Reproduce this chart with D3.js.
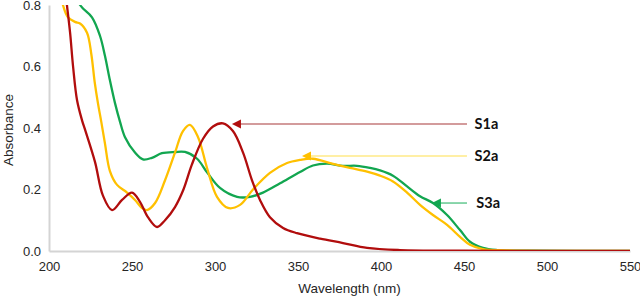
<!DOCTYPE html>
<html>
<head>
  <meta charset="utf-8">
  <title>Absorbance spectra</title>
  <style>
    body { margin: 0; background: #fff; }
    text { font-family: "Liberation Sans", Arial, sans-serif; }
  </style>
</head>
<body>
  <div id="viz"></div>
  <script src="https://d3js.org/d3.v7.min.js"></script>
  <script>
    // wavelength (nm) and absorbance
    const s1aWl  = [207, 210.8, 212.7, 214.5, 216.9, 219.9, 222, 227.7, 232.5, 238, 244, 250, 254.8, 259.6, 265.1, 269.9, 275.9, 281, 286, 292.8, 298.8, 304.8, 310.8, 316.9, 322.3, 327.1, 333.1, 341, 349.4, 363.3, 377.1, 391.6, 411.4, 450, 500, 550];
    const s1aAbs = [0.98, 0.8, 0.71, 0.6, 0.49, 0.425, 0.39, 0.29, 0.18, 0.133, 0.166, 0.19, 0.16, 0.11, 0.078, 0.1, 0.143, 0.2, 0.28, 0.365, 0.405, 0.415, 0.39, 0.32, 0.23, 0.166, 0.11, 0.075, 0.058, 0.04, 0.026, 0.01, 0.003, 0.001, 0, 0];

    const s2aWl  = [206, 208.4, 211.4, 215.7, 218.7, 222.9, 225.5, 227.5, 229.5, 231.5, 233.7, 236.7, 241, 247, 251.8, 256, 259, 263.9, 269.9, 275.9, 280.7, 284.9, 289.8, 295.2, 301.2, 307.8, 315.1, 322.9, 333.1, 343.4, 351.2, 359, 371.1, 381.3, 391.6, 399.4, 407.2, 415.7, 423.5, 431.3, 439.8, 447.6, 453.6, 461.4, 475, 550];
    const s2aAbs = [0.86, 0.8, 0.76, 0.745, 0.74, 0.71, 0.64, 0.55, 0.48, 0.42, 0.35, 0.26, 0.215, 0.19, 0.166, 0.14, 0.133, 0.156, 0.23, 0.32, 0.39, 0.41, 0.37, 0.27, 0.176, 0.14, 0.15, 0.2, 0.254, 0.286, 0.296, 0.3, 0.283, 0.27, 0.258, 0.245, 0.226, 0.19, 0.15, 0.117, 0.085, 0.046, 0.02, 0.006, 0.002, 0];

    const s3aWl  = [214, 218.7, 225.9, 230.7, 233.7, 236.7, 239.8, 242.8, 245.8, 251.8, 256.6, 262, 268, 275.9, 281.9, 289.2, 295.2, 303, 313.3, 321.1, 328.9, 339.2, 351.2, 359, 367.5, 377.1, 385.5, 393.4, 399.4, 407.2, 415.7, 423.5, 431.3, 439.8, 447.6, 453.6, 461.4, 469.9, 490, 550];
    const s3aAbs = [0.87, 0.8, 0.76, 0.7, 0.635, 0.555, 0.48, 0.42, 0.37, 0.32, 0.298, 0.303, 0.318, 0.322, 0.322, 0.3, 0.256, 0.205, 0.176, 0.176, 0.19, 0.22, 0.257, 0.278, 0.284, 0.277, 0.277, 0.27, 0.262, 0.245, 0.21, 0.178, 0.156, 0.117, 0.068, 0.03, 0.01, 0.003, 0.001, 0];

    const seriesNames = ['S1a', 'S2a', 'S3a'];
    const seriesColors = ['#b10d0d', '#ffc000', '#12a650'];
    const arrowColors = ['#a8383a', '#ffe04d', '#3dbb75'];
    // arrow tips in data units, tails share one wavelength
    const arrowTipWl  = [310.2, 352.4, 430.7];
    const arrowTipAbs = [0.413, 0.309, 0.156];
    const arrowTailWl = 451.8;
    const labelWl = [456.4, 456.4, 457.4];

    const xTicks = [200, 250, 300, 350, 400, 450, 500, 550];
    const yTicks = [0, 0.2, 0.4, 0.6, 0.8];

    let margin = { top: 5, right: 10, bottom: 46, left: 49 },
      width = 630 - margin.left,
      height = 251 - margin.top;

    let svg = d3.select('#viz')
      .append('svg')
      .attr('width', 640)
      .attr('height', 297)
      .append('g')
      .attr('transform', `translate(${margin.left}, ${margin.top})`);

    let x = d3.scaleLinear().domain([200, 550]).range([0, width]);
    let y = d3.scaleLinear().domain([0, 0.8]).range([height, 0]);

    svg.append('defs').append('clipPath')
      .attr('id', 'plot')
      .append('rect')
      .attr('x', 0).attr('y', 0)
      .attr('width', width).attr('height', height);

    // axes: grey lines, no ticks
    let xAxis = svg.append('g')
      .attr('transform', `translate(0, ${height})`)
      .call(d3.axisBottom(x).tickValues(xTicks).tickSize(0).tickPadding(11).tickFormat(d3.format('d')));
    let yAxis = svg.append('g')
      .call(d3.axisLeft(y).tickValues(yTicks).tickSize(0).tickPadding(8).tickFormat(d3.format('.1f')));

    [xAxis, yAxis].forEach(a => {
      a.select('.domain').attr('stroke', '#d4d4d4').attr('stroke-width', 2);
      a.selectAll('text')
        .style('font-size', '13px')
        .attr('fill', '#262626');
    });

    let line = d3.line()
      .x(d => x(d[0]))
      .y(d => y(d[1]))
      .curve(d3.curveCatmullRom.alpha(0.5));

    const allWl = [s1aWl, s2aWl, s3aWl];
    const allAbs = [s1aAbs, s2aAbs, s3aAbs];

    // draw green first so red sits on top like the reference
    [2, 1, 0].forEach(i => {
      svg.append('path')
        .datum(d3.zip(allWl[i], allAbs[i]))
        .attr('clip-path', 'url(#plot)')
        .attr('fill', 'none')
        .attr('stroke', seriesColors[i])
        .attr('stroke-width', 2.3)
        .attr('stroke-linejoin', 'round')
        .attr('d', line);
    });

    // annotation arrows and labels
    seriesNames.forEach((name, i) => {
      let tx = x(arrowTipWl[i]), ty = y(arrowTipAbs[i]);
      svg.append('line')
        .attr('x1', tx + 6).attr('y1', ty)
        .attr('x2', x(arrowTailWl)).attr('y2', ty)
        .attr('stroke', arrowColors[i])
        .attr('stroke-width', 1.2);
      svg.append('path')
        .attr('d', `M${tx},${ty} L${tx + 9},${ty - 4.5} L${tx + 9},${ty + 4.5} Z`)
        .attr('fill', seriesColors[i]);
      svg.append('text')
        .attr('x', x(labelWl[i]))
        .attr('y', ty + 5)
        .style('font-family', 'Lato, "Open Sans", sans-serif')
        .style('font-weight', 'bold')
        .style('font-size', '14.5px')
        .attr('fill', '#111')
        .text(name);
    });

    svg.append('text')
      .attr('x', width / 2 + 10)
      .attr('y', height + 42)
      .attr('text-anchor', 'middle')
      .style('font-size', '13.5px')
      .attr('fill', '#262626')
      .text('Wavelength (nm)');

    svg.append('text')
      .attr('transform', `translate(${-36}, ${height / 2 + 2}) rotate(-90)`)
      .attr('text-anchor', 'middle')
      .style('font-size', '13.5px')
      .attr('fill', '#262626')
      .text('Absorbance');
  </script>
</body>
</html>
